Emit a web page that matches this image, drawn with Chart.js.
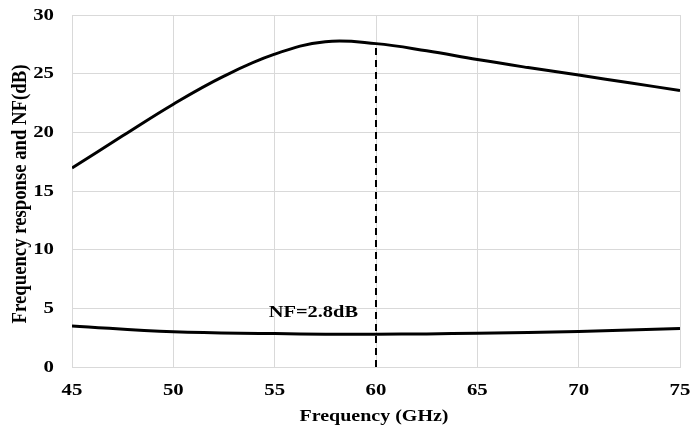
<!DOCTYPE html>
<html>
<head>
<meta charset="utf-8">
<script src="https://cdn.jsdelivr.net/npm/chart.js@4/dist/chart.umd.min.js"></script>
<style>
  html, body { margin: 0; padding: 0; background: #ffffff; }
  #wrap { width: 693px; height: 429px; }
</style>
</head>
<body>
<div id="wrap"><canvas id="c" width="693" height="429"></canvas></div>
<script>
// Frequency sweep (GHz)
const freqGain = [45, 47.5, 50, 52.5, 55, 57.5, 60, 62.5, 65, 67.5, 70, 72.5, 75];
// Frequency response (dB)
const gainDb = [16.96, 19.7, 22.4, 24.79, 26.66, 27.72, 27.56, 26.95, 26.2, 25.52, 24.88, 24.22, 23.57];

const freqNf = [45, 50, 55, 57.5, 60, 62.5, 65, 70, 75];
// Noise figure (dB)
const nfDb = [3.5, 3.0, 2.85, 2.8, 2.8, 2.82, 2.88, 3.03, 3.28];

// Marker frequency and annotation
const markerFreq = 60;
const markerNf = 2.8;
const nfLabel = 'NF=' + markerNf + 'dB';

const xTicks = [45, 50, 55, 60, 65, 70, 75];
const yTicks = [0, 5, 10, 15, 20, 25, 30];

const xTitle = 'Frequency (GHz)';
const yTitle = 'Frequency response and NF(dB)';

const markerGain = gainDb[freqGain.indexOf(markerFreq)];

const toPoints = (xs, ys) => xs.map((x, i) => ({ x: x, y: ys[i] }));

const serif = '"Liberation Serif", "Times New Roman", serif';
const gridColor = '#d9d9d9';

// Bold serif text, widened along its baseline (sx) and optionally rotated
function drawWide(ctx, text, x, y, opts) {
  const o = Object.assign({ size: 16, sx: 1.3, sy: 1, align: 'center', rot: 0 }, opts);
  ctx.save();
  ctx.translate(x, y);
  if (o.rot) ctx.rotate(o.rot);
  ctx.scale(o.sx, o.sy);
  ctx.font = 'bold ' + o.size + 'px ' + serif;
  ctx.fillStyle = '#000';
  ctx.textAlign = o.align;
  ctx.textBaseline = 'middle';
  ctx.fillText(text, 0, 0);
  ctx.restore();
}

const textPlugin = {
  id: 'axisText',
  afterDraw(chart) {
    const { ctx, scales, chartArea } = chart;
    const xs = scales.x, ys = scales.y;
    yTicks.forEach(v => {
      drawWide(ctx, String(v), chartArea.left - 18, ys.getPixelForValue(v) + 0.5, { align: 'right' });
    });
    xTicks.forEach(v => {
      drawWide(ctx, String(v), xs.getPixelForValue(v), chartArea.bottom + 24, {});
    });
    const cx = (chartArea.left + chartArea.right) / 2 - 2;
    drawWide(ctx, xTitle, cx, chartArea.bottom + 50, { sx: 1.25 });
    const cy = (chartArea.top + chartArea.bottom) / 2 + 3;
    drawWide(ctx, yTitle, 21, cy, { rot: -Math.PI / 2, sx: 1.17, sy: 1.25 });
    // NF annotation beside the marker line
    drawWide(ctx, nfLabel, xs.getPixelForValue(markerFreq) - 18, ys.getPixelForValue(markerNf) - 22,
      { align: 'right', size: 17, sx: 1.2 });
  }
};

new Chart(document.getElementById('c'), {
  type: 'scatter',
  data: {
    datasets: [
      {
        label: 'Frequency response',
        data: toPoints(freqGain, gainDb),
        showLine: true,
        borderColor: '#000',
        borderWidth: 3,
        pointRadius: 0,
        tension: 0.4
      },
      {
        label: 'NF',
        data: toPoints(freqNf, nfDb),
        showLine: true,
        borderColor: '#000',
        borderWidth: 3,
        pointRadius: 0,
        tension: 0.4
      },
      {
        label: 'marker',
        data: [{ x: markerFreq, y: 0 }, { x: markerFreq, y: markerGain }],
        showLine: true,
        borderColor: '#000',
        borderWidth: 2,
        borderDash: [7, 5],
        pointRadius: 0
      }
    ]
  },
  options: {
    responsive: false,
    animation: false,
    events: [],
    layout: { padding: { left: 0, right: 13, top: 15, bottom: 0 } },
    plugins: {
      legend: { display: false },
      tooltip: { enabled: false }
    },
    scales: {
      x: {
        type: 'linear',
        min: 45,
        max: 75,
        afterBuildTicks(scale) { scale.ticks = xTicks.map(v => ({ value: v })); },
        afterFit(scale) { scale.height = 62; },
        grid: { color: gridColor, lineWidth: 1, drawTicks: false },
        border: { color: gridColor, width: 1 },
        ticks: { display: false }
      },
      y: {
        min: 0,
        max: 30,
        afterBuildTicks(scale) { scale.ticks = yTicks.map(v => ({ value: v })); },
        afterFit(scale) { scale.width = 72; },
        grid: { color: gridColor, lineWidth: 1, drawTicks: false },
        border: { color: gridColor, width: 1 },
        ticks: { display: false }
      }
    }
  },
  plugins: [textPlugin]
});
</script>
</body>
</html>
